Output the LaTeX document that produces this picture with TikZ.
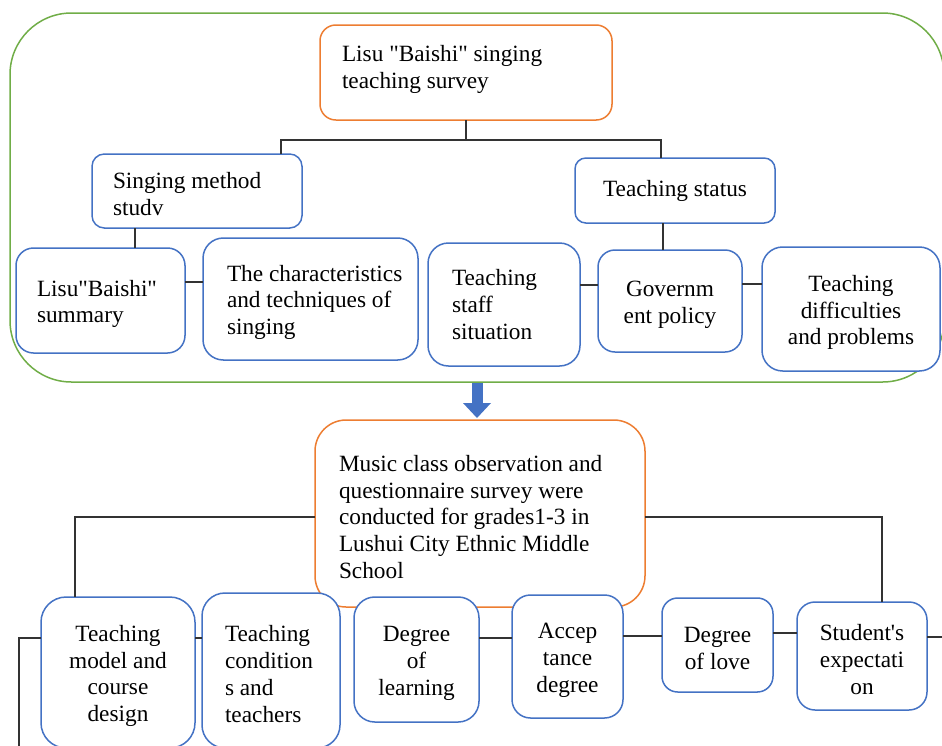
\documentclass[tikz,border=0pt]{standalone}
\usepackage{fontspec}
\setmainfont{Liberation Serif}[Ligatures=TeXOff]
\usepackage{xcolor}
\usepackage{tikz}
\usetikzlibrary{positioning,arrows.meta}

\definecolor{stagegreen}{HTML}{70AD47}
\definecolor{headorange}{HTML}{ED7D31}
\definecolor{itemblue}{HTML}{4472C4}

\begin{document}
\begin{tikzpicture}[x=1pt, y=-1pt, every node/.style={font=\fontsize{23.3}{26.8}\selectfont}]
        % Define styles
        \tikzstyle{stage} = [rectangle, draw=stagegreen, line width=1.5pt]
        \tikzstyle{headbox} = [rectangle, draw=headorange, fill=white, line width=1.5pt, outer sep=0pt]
        \tikzstyle{itembox} = [rectangle, draw=itemblue, fill=white, line width=1.5pt, outer sep=0pt]
        \tikzstyle{link} = [line width=1.2pt, draw=black!80]
        \tikzstyle{bigarrow} = [line width=11pt, draw=itemblue, -{Triangle[width=28pt, length=15pt, line width=0pt]}]
        \tikzset{dims/.style 2 args={minimum width=#1pt, minimum height=#2pt, rounded corners={min(#1,#2)/6}},
                 lowtext/.style={execute at begin node={\rule{0pt}{23pt}}},
                 lefttext/.style 2 args={align=flush left, text width=#1pt, inner xsep=#2pt, lowtext},
                 midtext/.style={align=flush center, text width=#1pt, inner xsep=6pt, lowtext}}

        \clip (0,0) rectangle (942,745);

        % Nodes
        \node[stage, dims={934}{369}] (stage1) at (477,197.5) {};

        \node[headbox, dims={292}{95}, inner xsep=22pt] (title) at (466,72.5)
            {\raisebox{3pt}[\height][\depth]{\parbox{248pt}{Lisu "Baishi" singing\\teaching survey}}};

        \node[itembox, dims={210}{74}, lefttext={168}{21}] (method) at (197,191) {Singing method\\studv};
        \node[itembox, dims={200}{65}] (status) at (675,190.5) {Teaching status};

        \node[itembox, dims={169}{105}, lefttext={127}{21}] (summary) at (100.5,300.5) {Lisu"Baishi"\\summary};
        \node[itembox, dims={215}{122}, lefttext={167}{24}, right=18pt of summary, yshift=1.5pt] (chars) {\mbox{The characteristics}\\and techniques of\\singing};
        \node[itembox, dims={152}{123}, align=flush left, text width=104pt, inner xsep=24pt, right=10pt of chars, yshift=-5.5pt] (staff) {Teaching\\staff\\situation};
        \node[itembox, dims={144}{102}, midtext=132, right=18pt of staff, yshift=3.5pt] (gov) {Governm\\ent policy};
        \node[itembox, dims={178}{124}, midtext=166, right=20pt of gov, yshift=-8pt] (diff) {Teaching\\difficulties\\and problems};

        \node[headbox, dims={330}{187}, lefttext={282}{24}] (survey) at (480,513.5)
            {Music class observation and\\questionnaire survey were\\conducted for grades1-3 in\\Lushui City Ethnic Middle\\School};

        \node[itembox, dims={154}{151}, midtext=142] (model) at (118,672.5) {Teaching\\model and\\course\\design};
        \node[itembox, dims={138}{155}, lefttext={92}{23}, right=7pt of model, yshift=2pt] (cond) {Teaching\\condition\\s and\\teachers};
        \node[itembox, dims={125}{125}, midtext=113, right=14pt of cond, yshift=11pt] (learn) {Degree\\of\\learning};
        \node[itembox, dims={111}{123}, midtext=99, right=33pt of learn, yshift=3pt] (accept) {Accep\\tance\\degree};
        \node[itembox, dims={111}{94}, midtext=99, right=39pt of accept, yshift=11.5pt] (love) {Degree\\of love};
        \node[itembox, dims={130}{108}, midtext=118, right=24pt of love, yshift=-11pt] (expect) {Student's\\expectati\\on};

        \coordinate (leftend) at (19,750);
        \coordinate (rightend) at (950,637);

        % Connections
        \draw[link] (title.south) -- ++(0,20) -| ([xshift=-21pt]method.north east);
        \draw[link] (title.south) -- ++(0,20) -| ([xshift=-14pt]status.north);
        \draw[link] ([xshift=-62pt]method.south) -- ([xshift=-62pt]method.south |- summary.north);
        \draw[link] ([xshift=-12pt]status.south) -- ([xshift=-12pt]status.south |- gov.north);

        \draw[link] ([yshift=18.5pt]summary.east) -- ([yshift=18.5pt]summary.east -| chars.west);
        \draw[link] ([yshift=19.5pt]staff.east) -- ([yshift=19.5pt]staff.east -| gov.west);
        \draw[link] ([yshift=17pt]gov.east) -- ([yshift=17pt]gov.east -| diff.west);

        \draw[bigarrow, shorten >=2pt] (stage1.south) -- (stage1.south |- survey.north);

        \draw[link] ([yshift=-3.5pt]survey.west) -| ([xshift=-43pt]model.north);
        \draw[link] ([yshift=-3.5pt]survey.east) -| ([xshift=20pt]expect.north);

        \draw[link] ([yshift=34.5pt]model.west) -| (leftend);
        \draw[link] ([yshift=34.5pt]model.east) -- ([yshift=34.5pt]model.east -| cond.west);
        \draw[link] ([yshift=21.5pt]learn.east) -- ([yshift=21.5pt]learn.east -| accept.west);
        \draw[link] ([yshift=20.5pt]accept.east) -- ([yshift=20.5pt]accept.east -| love.west);
        \draw[link] ([yshift=12pt]love.east) -- ([yshift=12pt]love.east -| expect.west);
        \draw[link] ([yshift=19pt]expect.east) -- (rightend);

    \end{tikzpicture}
\end{document}
